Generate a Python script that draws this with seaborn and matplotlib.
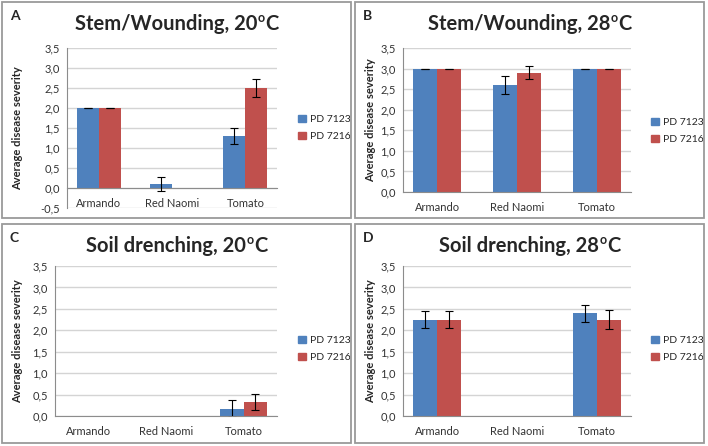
import matplotlib
matplotlib.use("Agg")
import matplotlib.pyplot as plt
import seaborn as sns
import pandas as pd
from matplotlib.patches import Rectangle
from matplotlib.ticker import FuncFormatter, MultipleLocator

sns.set_style("white")
plt.rcParams['font.family'] = ['Lato', 'DejaVu Sans']

# ---- data ----
cultivars = ['Armando', 'Red Naomi', 'Tomato']
isolates = ['PD 7123', 'PD 7216']

a_7123 = [2.0, 0.1, 1.3]
a_7123_err = [0.0, 0.17, 0.21]
a_7216 = [2.0, 0.0, 2.5]
a_7216_err = [0.0, 0.0, 0.23]

b_7123 = [3.0, 2.6, 3.0]
b_7123_err = [0.0, 0.22, 0.0]
b_7216 = [3.0, 2.9, 3.0]
b_7216_err = [0.0, 0.16, 0.0]

c_7123 = [0.0, 0.0, 0.167]
c_7123_err = [0.0, 0.0, 0.2]
c_7216 = [0.0, 0.0, 0.333]
c_7216_err = [0.0, 0.0, 0.19]

d_7123 = [2.25, 0.0, 2.4]
d_7123_err = [0.2, 0.0, 0.2]
d_7216 = [2.25, 0.0, 2.25]
d_7216_err = [0.2, 0.0, 0.22]

COLORS = {'PD 7123': '#4F81BD', 'PD 7216': '#C0504D'}
GRID = '#d4d4d4'
AXIS = '#8c8c8c'

W, H = 708, 446


def fx(px):
    return px / W


def fy(py):
    return 1 - py / H


panels = [
    # letter, title, values, errors, axes box (l, r, t, b px), ymin, panel box, legend y, error bars shown
    ('A', 'Stem/Wounding, 20', (a_7123, a_7216), (a_7123_err, a_7216_err),
     (67, 277, 48, 208), -0.5, (2, 351, 2, 218), 128, [True, True, True], [True, False, True]),
    ('B', 'Stem/Wounding, 28', (b_7123, b_7216), (b_7123_err, b_7216_err),
     (403, 631, 48, 192), 0.0, (355, 704, 2, 218), 131, [True, True, True], [True, True, True]),
    ('C', 'Soil drenching, 20', (c_7123, c_7216), (c_7123_err, c_7216_err),
     (55, 277, 266, 416), 0.0, (2, 351, 224, 443), 349, [False, False, True], [False, False, True]),
    ('D', 'Soil drenching, 28', (d_7123, d_7216), (d_7123_err, d_7216_err),
     (403, 631, 266, 416), 0.0, (355, 704, 224, 443), 349, [True, False, True], [True, False, True]),
]

fig = plt.figure(figsize=(7.08, 4.46), dpi=100)
renderer = fig.canvas.get_renderer()


def superscript_title(cx, cy, main):
    """Title like 'Stem/Wounding, 20ºC' with a small raised o, centred at (cx, cy) px"""
    t1 = fig.text(0, 0, main, fontsize=14.5, fontweight='bold', va='baseline', ha='left')
    t2 = fig.text(0, 0, 'o', fontsize=9, fontweight='bold', va='baseline', ha='left')
    t3 = fig.text(0, 0, 'C', fontsize=14.5, fontweight='bold', va='baseline', ha='left')
    w1 = t1.get_window_extent(renderer).width
    w2 = t2.get_window_extent(renderer).width
    w3 = t3.get_window_extent(renderer).width
    x0 = cx - (w1 + w2 + w3) / 2
    base = cy + 7
    t1.set_position((fx(x0), fy(base)))
    t2.set_position((fx(x0 + w1 + 0.5), fy(base - 8)))
    t3.set_position((fx(x0 + w1 + w2 + 0.5), fy(base)))


for letter, title, vals, errs, box, ymin, pbox, leg_y, show0, show1 in panels:
    l, r, t, b = box
    pl, pr, pt, pb = pbox
    ax = fig.add_axes([fx(l), fy(b), fx(r - l), (b - t) / H])

    df = pd.DataFrame({
        'cultivar': cultivars * 2,
        'isolate': [isolates[0]] * 3 + [isolates[1]] * 3,
        'value': list(vals[0]) + list(vals[1]),
    })
    sns.barplot(data=df, x='cultivar', y='value', hue='isolate',
                order=cultivars, hue_order=isolates, palette=COLORS,
                width=0.6, errorbar=None, legend=False, ax=ax,
                saturation=1, linewidth=0)

    # error bars on the bar centres
    for cont, err, shown in zip(ax.containers, errs, (show0, show1)):
        for patch, e, s in zip(cont.patches, err, shown):
            if not s:
                continue
            xc = patch.get_x() + patch.get_width() / 2
            ax.errorbar(xc, patch.get_height(), yerr=e, color='black',
                        lw=0.8, capsize=3, capthick=0.8, zorder=5)

    ax.set_ylim(ymin, 3.5)
    ax.yaxis.set_major_locator(MultipleLocator(0.5))
    ax.yaxis.set_major_formatter(FuncFormatter(lambda v, p: f'{v:.1f}'.replace('.', ',')))
    ax.grid(axis='y', color=GRID, lw=1)
    ax.set_axisbelow(True)
    for s in ['top', 'right']:
        ax.spines[s].set_visible(False)
    ax.spines['left'].set_color(AXIS)
    ax.spines['bottom'].set_color(AXIS)
    ax.spines['bottom'].set_position(('data', 0))
    ax.tick_params(axis='y', length=3, color=AXIS, labelsize=8, pad=2, labelcolor='#333333')
    ax.tick_params(axis='x', length=0, labelsize=8, pad=7, labelcolor='#333333')
    ax.set_xlabel('')
    ax.set_ylabel('Average disease severity', fontsize=8, fontweight='bold')
    ax.yaxis.set_label_coords((pl + 21 - l) / (r - l), 0.5)

    # legend
    handles = [Rectangle((0, 0), 1, 1, color=COLORS[k]) for k in isolates]
    ax.legend(handles, isolates, loc='center left', frameon=False,
              bbox_to_anchor=(fx(pl + 291), fy(leg_y)), bbox_transform=fig.transFigure,
              fontsize=7.5, handlelength=0.7, handleheight=0.7, handletextpad=0.4,
              labelspacing=0.8, borderpad=0)

    # panel frame, letter and title
    fig.patches.append(Rectangle((fx(pl), fy(pb)), fx(pr - pl), (pb - pt) / H,
                                 transform=fig.transFigure, fill=False,
                                 ec='#9a9a9a', lw=1.3))
    fig.text(fx(pl + 8), fy(pt + 14), letter, fontsize=10, fontweight='bold',
             va='center', ha='left')
    superscript_title((pl + pr) / 2, pt + 21, title)

fig.savefig('out.png', dpi=100, facecolor='white')
